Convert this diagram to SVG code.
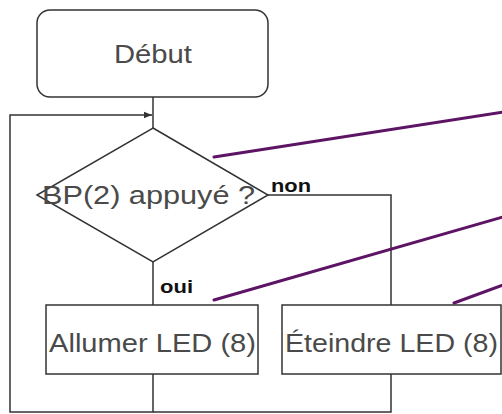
<svg xmlns="http://www.w3.org/2000/svg" width="502" height="414" viewBox="0 0 502 414">
<style>
.shape{fill:#fff;stroke:#333;stroke-width:1.5}
.conn{fill:none;stroke:#333;stroke-width:1.5}
.lbl{font-family:"Liberation Sans",Arial,sans-serif;fill:#4a4a4a;font-size:25px}
.yn{font-family:"Liberation Sans",Arial,sans-serif;fill:#111;font-size:18px;font-weight:bold}
.pur{stroke:#5e1464;stroke-width:3;stroke-linecap:round}
</style>
<defs>
<marker id="arr" viewBox="0 0 10 10" refX="10" refY="5" markerWidth="8" markerHeight="8" orient="auto" markerUnits="userSpaceOnUse">
<path d="M0,1 L10,5 L0,9 Z" fill="#333"/>
</marker>
</defs>
<rect width="502" height="414" fill="#fff"/>
<g id="connectors">
<line class="conn" x1="153" y1="97" x2="153" y2="128"/>
<polyline class="conn" points="153,374 153,412 10,412 10,115 152,115" marker-end="url(#arr)"/>
<polyline class="conn" points="268,195 391,195 391,305"/>
<line class="conn" x1="153" y1="262" x2="153" y2="305"/>
<polyline class="conn" points="391,374 391,412 153,412"/>
<text class="yn" x="271" y="192" textLength="40" lengthAdjust="spacingAndGlyphs">non</text>
<text class="yn" x="160" y="293" textLength="33" lengthAdjust="spacingAndGlyphs">oui</text>
</g>
<g id="debut">
<rect class="shape" x="37" y="10" width="231" height="87" rx="13"/>
<text class="lbl" x="153" y="63" text-anchor="middle" textLength="78" lengthAdjust="spacingAndGlyphs">Début</text>
</g>
<g id="decision">
<polygon class="shape" points="153,128 268,195 153,262 37,195"/>
<text class="lbl" x="42" y="204" textLength="213" lengthAdjust="spacingAndGlyphs">BP(2) appuyé ?</text>
</g>
<g id="allumer">
<rect class="shape" x="46" y="305" width="212" height="69"/>
<text class="lbl" x="49" y="352" textLength="207" lengthAdjust="spacingAndGlyphs">Allumer LED (8)</text>
</g>
<g id="eteindre">
<rect class="shape" x="282" y="305" width="219" height="69"/>
<text class="lbl" x="285" y="352" textLength="213" lengthAdjust="spacingAndGlyphs">Éteindre LED (8)</text>
</g>
<g id="annotations">
<line class="pur" x1="214" y1="157" x2="503" y2="112"/>
<line class="pur" x1="214" y1="300" x2="503" y2="217"/>
<line class="pur" x1="454" y1="303" x2="503" y2="285"/>
</g>
</svg>
